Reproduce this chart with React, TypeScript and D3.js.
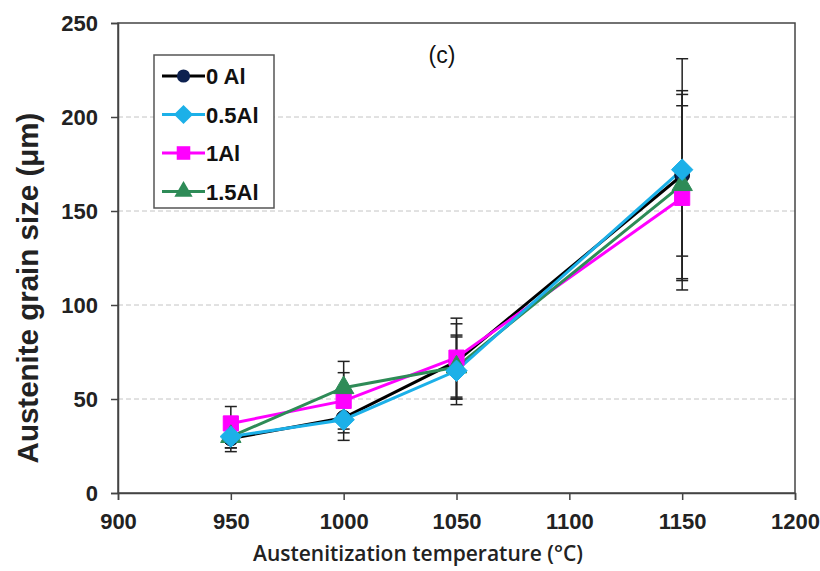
import React, { useEffect, useRef } from 'react';
import * as d3 from 'd3';

const temperatures = [950, 1000, 1050, 1150];
const seriesNames = ['0 Al', '0.5Al', '1Al', '1.5Al'];
const grain0Al = [29, 40, 70, 169];
const grain05Al = [30, 39, 65, 172];
const grain1Al = [37, 49, 72, 157];
const grain15Al = [30, 56, 67, 164];
const err0Al = [7, 8, 20, 43];
const err05Al = [6, 11, 18, 59];
const err1Al = [9, 15, 21, 49];
const err15Al = [6, 14, 17, 50];
const xTicks = [900, 950, 1000, 1050, 1100, 1150, 1200];
const yTicks = [0, 50, 100, 150, 200, 250];

export default function App() {
  const svgRef = useRef<SVGSVGElement>(null);

  useEffect(() => {
    const svg = d3.select(svgRef.current);
    svg.selectAll('*').remove();

    const W = 820, H = 571;
    const margin = { top: 23, right: 25, bottom: 78, left: 118 };
    const x = d3.scaleLinear().domain([900, 1200]).range([margin.left, W - margin.right]);
    const y = d3.scaleLinear().domain([0, 250]).range([H - margin.bottom, margin.top]);

    svg.append('rect').attr('width', W).attr('height', H).attr('fill', '#fff');

    // dashed gridlines
    svg.append('g')
      .selectAll('line')
      .data(yTicks.filter(t => t > 0 && t < 250))
      .join('line')
      .attr('x1', x(900)).attr('x2', x(1200))
      .attr('y1', d => y(d)).attr('y2', d => y(d))
      .attr('stroke', '#c4c4c4')
      .attr('stroke-width', 1)
      .attr('stroke-dasharray', '5,3');

    // frame
    svg.append('rect')
      .attr('x', x(900)).attr('y', y(250))
      .attr('width', x(1200) - x(900)).attr('height', y(0) - y(250))
      .attr('fill', 'none').attr('stroke', '#444').attr('stroke-width', 1.5);

    const font = 'Arial, "Liberation Sans", sans-serif';

    const yAxis = svg.append('g')
      .attr('transform', `translate(${x(900)},0)`)
      .call(d3.axisLeft(y).tickValues(yTicks).tickSize(7).tickPadding(13));
    yAxis.select('.domain').attr('stroke', '#444').attr('stroke-width', 1.5);
    yAxis.selectAll('line').attr('stroke', '#444').attr('stroke-width', 1.5);
    yAxis.selectAll('text')
      .attr('font-family', font).attr('font-size', 22).attr('font-weight', 'bold').attr('fill', '#222');

    const xAxis = svg.append('g')
      .attr('transform', `translate(0,${y(0)})`)
      .call(d3.axisBottom(x).tickValues(xTicks).tickSize(7).tickPadding(13).tickFormat(d3.format('d')));
    xAxis.select('.domain').attr('stroke', '#444').attr('stroke-width', 1.5);
    xAxis.selectAll('line').attr('stroke', '#444').attr('stroke-width', 1.5);
    xAxis.selectAll('text')
      .attr('font-family', font).attr('font-size', 22).attr('font-weight', 'bold').attr('fill', '#222');

    svg.append('text')
      .attr('transform', `translate(38,${(y(0) + y(250)) / 2 + 30}) rotate(-90)`)
      .attr('text-anchor', 'middle')
      .attr('font-family', font).attr('font-size', 29.5).attr('font-weight', 'bold').attr('fill', '#222')
      .text('Austenite grain size (μm)');

    svg.append('text')
      .attr('x', 418).attr('y', 561)
      .attr('text-anchor', 'middle')
      .attr('font-family', '"Open Sans", "Noto Sans", sans-serif').attr('font-size', 21).attr('font-weight', 600).attr('fill', '#222')
      .text('Austenitization temperature (°C)');

    svg.append('text')
      .attr('x', 442).attr('y', 63)
      .attr('text-anchor', 'middle')
      .attr('font-family', font).attr('font-size', 23).attr('fill', '#111')
      .text('(c)');

    const diamond = { draw: (ctx: any, size: number) => {
      const r = Math.sqrt(size / 2);
      ctx.moveTo(0, -r); ctx.lineTo(r, 0); ctx.lineTo(0, r); ctx.lineTo(-r, 0); ctx.closePath();
    } };

    const series = [
      { name: seriesNames[0], values: grain0Al, errs: err0Al, line: '#000', fill: '#0d2150', shape: d3.symbolCircle, size: 170 },
      { name: seriesNames[2], values: grain1Al, errs: err1Al, line: '#ff00ff', fill: '#ff00ff', shape: d3.symbolSquare, size: 230 },
      { name: seriesNames[3], values: grain15Al, errs: err15Al, line: '#2e8b57', fill: '#2e8b57', shape: d3.symbolTriangle, size: 180 },
      { name: seriesNames[1], values: grain05Al, errs: err05Al, line: '#1cb0e8', fill: '#1cb0e8', shape: diamond, size: 230 },
    ];

    // error bars
    const eb = svg.append('g').attr('stroke', '#222').attr('stroke-width', 1.5);
    series.forEach(s => {
      temperatures.forEach((t, i) => {
        const lo = y(s.values[i] - s.errs[i]);
        const hi = y(s.values[i] + s.errs[i]);
        const cx = x(t);
        eb.append('line').attr('x1', cx).attr('x2', cx).attr('y1', lo).attr('y2', hi);
        eb.append('line').attr('x1', cx - 6).attr('x2', cx + 6).attr('y1', lo).attr('y2', lo);
        eb.append('line').attr('x1', cx - 6).attr('x2', cx + 6).attr('y1', hi).attr('y2', hi);
      });
    });

    const line = d3.line<number>().x((_, i) => x(temperatures[i])).y(d => y(d));
    series.forEach(s => {
      svg.append('path')
        .attr('d', line(s.values))
        .attr('fill', 'none')
        .attr('stroke', s.line)
        .attr('stroke-width', 3);
    });
    series.forEach(s => {
      svg.append('g')
        .selectAll('path')
        .data(s.values)
        .join('path')
        .attr('transform', (d, i) => `translate(${x(temperatures[i])},${y(d)})`)
        .attr('d', d3.symbol().type(s.shape as any).size(s.size)())
        .attr('fill', s.fill)
        .attr('stroke', s.fill === '#0d2150' ? '#000' : s.fill)
        .attr('stroke-width', 1);
    });

    // legend
    const legend = svg.append('g');
    legend.append('rect')
      .attr('x', 154).attr('y', 55).attr('width', 120).attr('height', 153)
      .attr('fill', '#fff').attr('stroke', '#555').attr('stroke-width', 1.5);
    const legendOrder = [series[0], series[3], series[1], series[2]];
    legendOrder.forEach((s, i) => {
      const ly = 76 + i * 38.5;
      legend.append('line')
        .attr('x1', 162).attr('x2', 205).attr('y1', ly).attr('y2', ly)
        .attr('stroke', s.line).attr('stroke-width', 3);
      legend.append('path')
        .attr('transform', `translate(183.5,${ly})`)
        .attr('d', d3.symbol().type(s.shape as any).size(s.size * 0.8)())
        .attr('fill', s.fill);
      legend.append('text')
        .attr('x', 206).attr('y', ly + 8)
        .attr('font-family', font).attr('font-size', 22).attr('font-weight', 'bold').attr('fill', '#111')
        .text(s.name);
    });
  }, []);

  return (
    <svg ref={svgRef} width={820} height={571} style={{ display: 'block', position: 'absolute', left: 0, top: 0 }} />
  );
}
